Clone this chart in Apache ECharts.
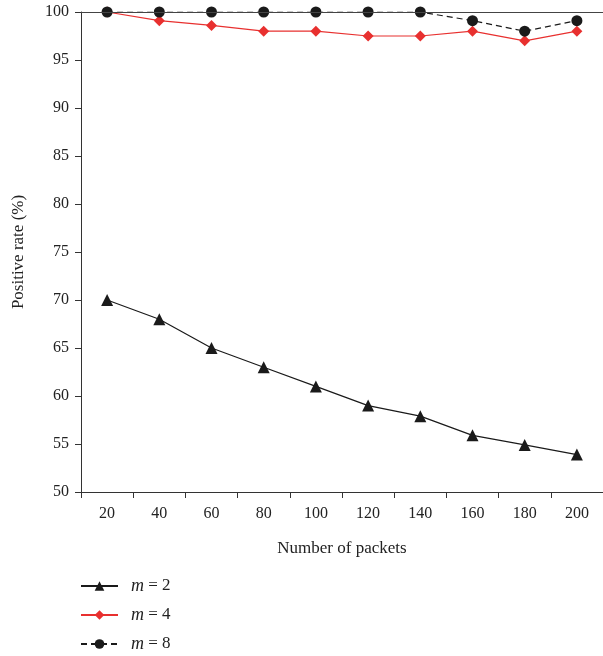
<!DOCTYPE html>
<html>
<head>
<meta charset="utf-8">
<script src="https://cdn.jsdelivr.net/npm/echarts@6/dist/echarts.min.js"></script>
<style>html,body{margin:0;padding:0;background:#fff}#c{width:603px;height:656px}</style>
</head>
<body>
<div id="c"></div>
<script>
const categories = ['20','40','60','80','100','120','140','160','180','200'];
const seriesNames = ['m = 2','m = 4','m = 8'];
const m2 = [70, 68, 65, 63, 61, 59, 57.9, 55.9, 54.9, 53.9];
const m4 = [100, 99.1, 98.6, 98, 98, 97.5, 97.5, 98, 97, 98];
const m8 = [100, 100, 100, 100, 100, 100, 100, 99.1, 98, 99.1];
const yTicks = {min: 50, max: 100, interval: 5};

const font = 'Liberation Serif';
const axisColor = '#333';
const chart = echarts.init(document.getElementById('c'));
chart.setOption({
  animation: false,
  textStyle: {fontFamily: font},
  grid: {left: 81, right: -2, top: 12, bottom: 164, containLabel: false},
  xAxis: {
    type: 'category', data: categories, boundaryGap: true,
    name: 'Number of packets', nameLocation: 'middle', nameGap: 48,
    nameTextStyle: {fontFamily: font, fontSize: 17, color: '#222'},
    axisLine: {lineStyle: {color: axisColor, width: 1}},
    axisTick: {show: true, inside: false, length: 6, alignWithLabel: false, lineStyle: {color: axisColor}},
    axisLabel: {fontFamily: font, fontSize: 16, color: '#222', margin: 14},
    splitLine: {show: false}
  },
  yAxis: {
    type: 'value', min: yTicks.min, max: yTicks.max, interval: yTicks.interval,
    name: 'Positive rate (%)', nameLocation: 'middle', nameGap: 54, nameRotate: 90,
    nameTextStyle: {fontFamily: font, fontSize: 17, color: '#222'},
    axisLine: {show: true, lineStyle: {color: axisColor, width: 1}},
    axisTick: {show: true, length: 6, lineStyle: {color: axisColor}},
    axisLabel: {fontFamily: font, fontSize: 16, color: '#222', margin: 12},
    splitLine: {show: false}
  },
  legend: {
    orient: 'vertical', left: 80, top: 577, padding: 0, itemGap: 11, itemWidth: 37, itemHeight: 12,
    height: 100,
    data: seriesNames,
    formatter: function (n) { return '{i|m}' + n.slice(1); },
    textStyle: {fontFamily: font, fontSize: 17, color: '#222', padding: [0, 0, 0, 8],
      rich: {i: {fontFamily: font, fontStyle: 'italic', fontSize: 18, color: '#222'}}}
  },
  series: [
    {name: seriesNames[0], type: 'line', data: m2, symbol: 'triangle', symbolSize: 12,
     itemStyle: {color: '#1a1a1a'}, lineStyle: {color: '#1a1a1a', width: 1.2}, z: 2,
     markLine: {silent: true, symbol: 'none', label: {show: false},
       lineStyle: {color: '#444', type: 'solid', width: 1}, data: [{yAxis: 100}]}},
    {name: seriesNames[1], type: 'line', data: m4, symbol: 'diamond', symbolSize: 11,
     itemStyle: {color: '#e8302f'}, lineStyle: {color: '#e8302f', width: 1.2}, z: 3},
    {name: seriesNames[2], type: 'line', data: m8, symbol: 'circle', symbolSize: 11,
     itemStyle: {color: '#1a1a1a'}, lineStyle: {color: '#1a1a1a', width: 1.2, type: [6, 4]}, z: 4}
  ]
});
</script>
</body>
</html>
